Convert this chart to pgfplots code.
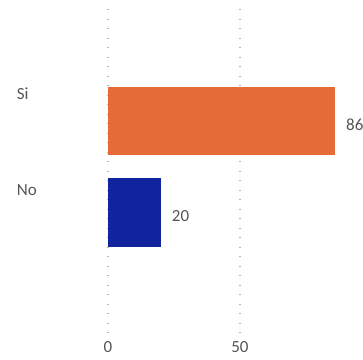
\documentclass[border=0pt]{standalone}
\usepackage{pgfplots}
\pgfplotsset{compat=1.18}
\usepackage{fontspec}
\setmainfont{Carlito}
\definecolor{orangebar}{HTML}{E66C37}
\definecolor{bluebar}{HTML}{12239E}
\definecolor{labgray}{HTML}{555555}
\definecolor{gridgray}{HTML}{B4B4B4}
\begin{document}
\begin{tikzpicture}
\useasboundingbox (0,0) rectangle (363pt,359pt);
\begin{axis}[
  at={(108pt,26pt)}, anchor=south west,
  width=255pt, height=324pt, scale only axis,
  xbar, bar shift=0pt, bar width=0.75,
  xmin=0, xmax=96.6,
  ymin=-0.224, ymax=3.317, y dir=reverse,
  axis line style={draw=none},
  tick style={draw=none},
  xtick={0,50},
  ytick={0.705,1.754},
  yticklabels={Si,No},
  yticklabel style={anchor=west, inner sep=0pt, xshift=-87pt, font=\fontsize{17}{20}\selectfont, text=labgray},
  xticklabel style={anchor=north, inner sep=0pt, yshift=-8pt, font=\fontsize{17}{20}\selectfont, text=labgray},
  /pgf/number format/assume math mode=true,
  xmajorgrids,
  major grid style={draw=gridgray, line width=1.1pt, dash pattern=on 1.1pt off 8.4pt},
  nodes near coords,
  every node near coord/.append style={anchor=west, inner sep=0pt, xshift=11pt, yshift=-4pt, font=\fontsize{17}{20}\selectfont, text=labgray},
  point meta=explicit,
  clip=false,
]
\addplot[draw=none, fill=orangebar] coordinates {(86,1) [86]};
\addplot[draw=none, fill=bluebar] coordinates {(20,2) [20]};
\end{axis}
\end{tikzpicture}
\end{document}
